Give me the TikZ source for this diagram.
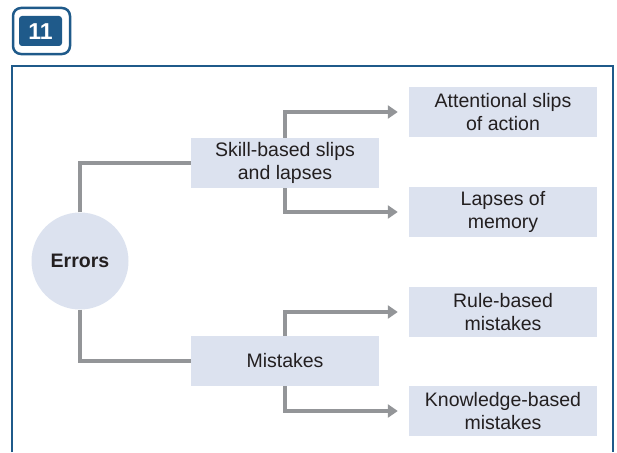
\documentclass[tikz,border=0pt]{standalone}
\usepackage{fontspec}
\setmainfont{Liberation Sans}
\usetikzlibrary{arrows.meta}
\definecolor{boxblue}{HTML}{DCE2EF}
\definecolor{linegray}{HTML}{939598}
\definecolor{frameblue}{HTML}{1F5A8A}
\definecolor{inkgray}{HTML}{231F20}

\begin{document}
\begin{tikzpicture}[x=1pt,y=-1pt,
  box/.style={fill=boxblue, text=inkgray, minimum width=188pt, minimum height=50pt, inner sep=0pt, align=center, font=\fontsize{19.5}{23}\selectfont},
  link/.style={draw=linegray, line width=4.5pt},
  branch/.style={link, -{Triangle[length=10pt,width=13pt]}, shorten >=11pt}]
\useasboundingbox (0,0) rectangle (617,452);
% the number badge
\draw[frameblue, line width=2.5pt, rounded corners=8pt] (13,8) rectangle (70,54);
\fill[frameblue, rounded corners=3pt] (19,16) rectangle (62,46);
\node[white, font=\fontsize{23}{23}\selectfont\bfseries] (num) at (40.5,31.5) {11};
% the frame
\draw[frameblue, line width=2pt] (12,452) -- (12,66) -- (613,66) -- (613,452);
% the root
\node[circle, fill=boxblue, text=inkgray, minimum size=97pt, inner sep=0pt, font=\fontsize{19.5}{23}\selectfont\bfseries] (errors) at (80,261) {Errors};
% the two kinds
\node[box] (skill) at (285,163) {Skill-based slips\\and lapses};
\node[box] (mist) at (285,361) {Mistakes};
% the leaves
\node[box] (attn) at (503,112) {Attentional slips\\of action};
\node[box] (lapse) at (503,212) {Lapses of\\memory};
\node[box] (rule) at (503,312) {Rule-based\\mistakes};
\node[box] (know) at (503,411) {Knowledge-based\\mistakes};
% connectors
\draw[link] (errors) |- (skill);
\draw[link] (errors) |- (mist);
\draw[branch] (skill) |- (attn);
\draw[branch] (skill) |- (lapse);
\draw[branch] (mist) |- (rule);
\draw[branch] (mist) |- (know);
\end{tikzpicture}
\end{document}
